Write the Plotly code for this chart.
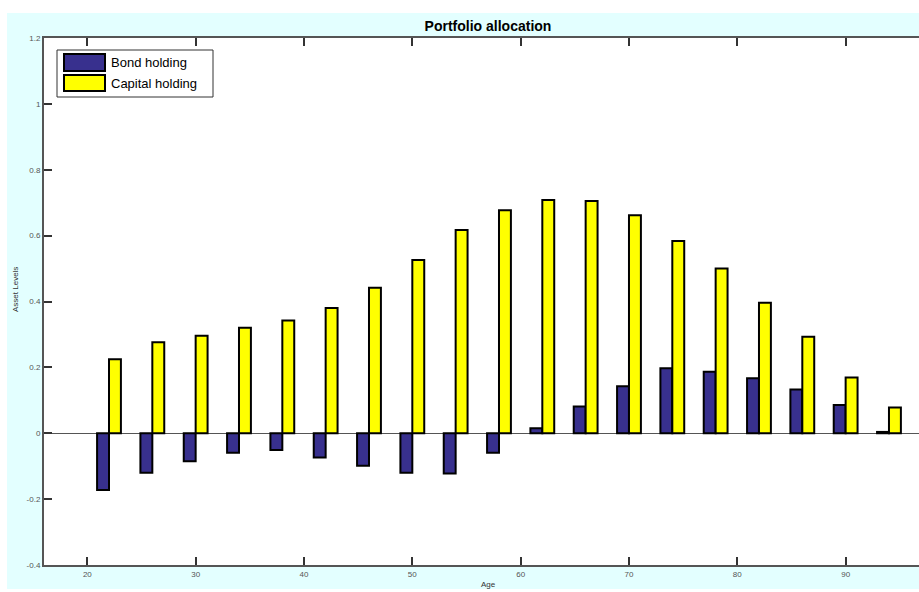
import plotly.graph_objects as go

# ---- data ----
ages = [22, 26, 30, 34, 38, 42, 46, 50, 54, 58, 62, 66, 70, 74, 78, 82, 86, 90, 94]
bond_holding = [-0.172, -0.120, -0.085, -0.059, -0.051, -0.074, -0.099, -0.120, -0.122, -0.059,
                0.015, 0.081, 0.143, 0.197, 0.187, 0.167, 0.133, 0.086, 0.004]
capital_holding = [0.225, 0.276, 0.296, 0.320, 0.342, 0.380, 0.442, 0.526, 0.617, 0.677,
                   0.708, 0.705, 0.662, 0.584, 0.500, 0.396, 0.293, 0.169, 0.078]
series_names = ["Bond holding", "Capital holding"]
x_tick_vals = [20, 30, 40, 50, 60, 70, 80, 90]
x_tick_text = ["20", "30", "40", "50", "60", "70", "80", "90"]
y_tick_vals = [-0.4, -0.2, 0, 0.2, 0.4, 0.6, 0.8, 1.0, 1.2]
y_tick_text = ["-0.4", "-0.2", "0", "0.2", "0.4", "0.6", "0.8", "1", "1.2"]

# ---- layout geometry (pixels) ----
W, H = 919, 592
L, R, T, B = 44, 919, 38, 565
PW, PH = R - L, B - T

def px(x):
    return (x - L) / PW

def py(y):
    return (B - y) / PH

BOND_COLOR = "#38308e"
CAP_COLOR = "#ffff00"
CYAN = "#e3ffff"
AXIS = "#555555"
TICKTXT = "#555555"
FONT = "Liberation Sans, Arial, sans-serif"

fig = go.Figure()
fig.add_trace(go.Bar(x=ages, y=bond_holding, name=series_names[0],
                     marker=dict(color=BOND_COLOR, line=dict(color="black", width=2)),
                     showlegend=False))
fig.add_trace(go.Bar(x=ages, y=capital_holding, name=series_names[1],
                     marker=dict(color=CAP_COLOR, line=dict(color="black", width=2)),
                     showlegend=False))

shapes = []
# white border strips around the cyan figure background
for (x0, x1, y0, y1) in [(0, W, 0, 13), (0, 7, 0, H), (0, W, 589, H)]:
    shapes.append(dict(type="rect", xref="paper", yref="paper",
                       x0=px(x0), x1=px(x1), y0=py(y1), y1=py(y0),
                       fillcolor="white", line=dict(width=0), layer="below"))

# custom legend box
shapes.append(dict(type="rect", xref="paper", yref="paper",
                   x0=px(57), x1=px(213), y0=py(97), y1=py(50),
                   fillcolor="white", line=dict(color="#333333", width=1), layer="above"))
annotations = []
legend_rows = [(54, 71, BOND_COLOR, series_names[0]), (75, 91, CAP_COLOR, series_names[1])]
for (y0, y1, col, name) in legend_rows:
    shapes.append(dict(type="rect", xref="paper", yref="paper",
                       x0=px(64), x1=px(105), y0=py(y1), y1=py(y0),
                       fillcolor=col, line=dict(color="black", width=2), layer="above"))
    annotations.append(dict(xref="paper", yref="paper", x=px(109), y=py((y0 + y1) / 2),
                            xanchor="left", yanchor="middle", showarrow=False,
                            text=name, font=dict(family=FONT, size=13, color="black")))

# axis titles
annotations.append(dict(xref="paper", yref="paper", x=px(15), y=py(290), textangle=-90,
                        xanchor="center", yanchor="middle", showarrow=False,
                        text="Asset Levels", font=dict(family=FONT, size=8, color="#333")))
annotations.append(dict(xref="paper", yref="paper", x=px(488), y=py(591),
                        xanchor="center", yanchor="bottom", showarrow=False,
                        text="Age", font=dict(family=FONT, size=8, color="#333")))

fig.update_layout(
    width=W, height=H,
    margin=dict(l=L, r=W - R, t=T, b=H - B, pad=0),
    paper_bgcolor=CYAN, plot_bgcolor="white",
    barmode="group", bargap=0.45, bargroupgap=0,
    title=dict(text="<b>Portfolio allocation</b>", x=px(488), xref="paper", xanchor="center",
               y=1 - 26 / H, yref="container", yanchor="middle",
               font=dict(family=FONT, size=14, color="black")),
    shapes=shapes, annotations=annotations,
    xaxis=dict(range=[16, 16 + (R - L) / 10.833], tickvals=x_tick_vals, ticktext=x_tick_text,
               ticks="inside", ticklen=8, tickwidth=1.5, tickcolor="#333333",
               showline=True, linecolor=AXIS, linewidth=2, mirror="ticks",
               showgrid=False, zeroline=False,
               tickfont=dict(family=FONT, size=8, color=TICKTXT)),
    yaxis=dict(range=[-0.4, 1.2], tickvals=y_tick_vals, ticktext=y_tick_text,
               ticks="inside", ticklen=8, tickwidth=1.5, tickcolor="#333333",
               showline=True, linecolor=AXIS, linewidth=2,
               showgrid=False, zeroline=True, zerolinecolor="#555555", zerolinewidth=1,
               tickfont=dict(family=FONT, size=8, color=TICKTXT)),
)

fig.write_html("out.html")
